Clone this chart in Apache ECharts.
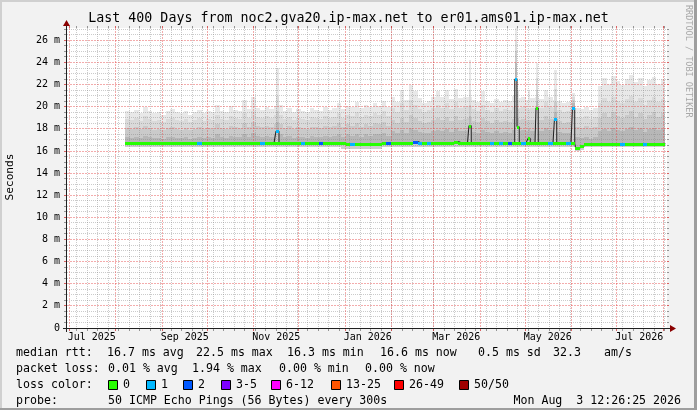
<!DOCTYPE html>
<html>
<head>
<meta charset="utf-8">
<script src="https://cdn.jsdelivr.net/npm/echarts@6/dist/echarts.min.js"></script>
<style>
html,body{margin:0;padding:0;background:#f2f2f2;}
#c{width:697px;height:410px;}
</style>
</head>
<body>
<div id="c"></div>
<script>
// ---------------- data ----------------
const titleText = 'Last 400 Days from noc2.gva20.ip-max.net to er01.ams01.ip-max.net';
const rangeStart = Date.UTC(2025, 5, 29, 12, 26, 25);
const rangeEnd   = Date.UTC(2026, 7, 3, 12, 26, 25);
const dataStart  = Date.UTC(2025, 7, 7, 12, 0, 0);
const stepDays = 3;
const yMax = 27.12;

const xTickLabels = ['Jul 2025', 'Sep 2025', 'Nov 2025', 'Jan 2026', 'Mar 2026', 'May 2026', 'Jul 2026'];
const xTickDates  = ['2025-07-16', '2025-09-16', '2025-11-16', '2026-01-16', '2026-03-16', '2026-05-16', '2026-07-16'];
const monthLines = ['2025-07-01','2025-08-01','2025-09-01','2025-10-01','2025-11-01','2025-12-01','2026-01-01',
                    '2026-02-01','2026-03-01','2026-04-01','2026-05-01','2026-06-01','2026-07-01','2026-08-01'];
const firstWeekLine = '2025-07-06';

// median rtt (ms), one value per 3-day step
const median = [
 16.7,16.7,16.7,16.7,16.7,16.7,16.7,16.7,16.7,16.7,
 16.7,16.7,16.7,16.7,16.7,16.7,16.7,16.7,16.7,16.7,
 16.7,16.7,16.7,16.7,16.7,16.7,16.7,16.7,16.7,16.7,
 16.7,16.7,16.7,16.7,16.7,16.7,16.7,16.7,16.7,16.7,
 16.7,16.7,16.7,16.7,16.7,16.7,16.7,16.7,16.7,16.6,
 16.6,16.6,16.6,16.6,16.6,16.6,16.6,16.7,16.7,16.7,
 16.7,16.7,16.7,16.7,16.85,16.7,16.7,16.7,16.7,16.7,
 16.7,16.7,16.7,16.85,16.7,16.7,16.7,16.7,16.7,16.7,
 16.7,16.7,16.7,16.7,16.7,16.7,16.7,16.7,16.7,16.7,
 16.7,16.7,16.7,16.7,16.7,16.7,16.7,16.7,16.7,16.7,
 16.3,16.45,16.65,16.65,16.65,16.65,16.65,16.65,16.65,16.65,
 16.65,16.65,16.65,16.65,16.65,16.65,16.65,16.65,16.65,16.65
];
// lost pings (of 50) per step
const loss = [
 0,0,0,0,0,0,0,0,0,0,
 0,0,0,0,0,0,1,0,0,0,
 0,0,0,0,0,0,0,0,0,0,
 1,0,0,0,0,0,0,0,0,1,
 0,0,0,2,0,0,0,0,0,0,
 1,0,0,0,0,0,0,0,2,0,
 0,0,0,0,2,1,0,1,0,0,
 0,0,0,0,0,0,0,0,0,0,
 0,1,0,1,0,2,0,0,1,0,
 0,0,0,0,1,0,0,0,1,0,
 0,0,0,0,0,0,0,0,0,0,
 1,0,0,0,0,1,0,0,0,0
];
// smoke: lower edge
const smokeBottom = [
 16.4,16.4,16.4,16.4,16.4,16.4,16.4,16.4,16.4,16.4,
 16.4,16.4,16.4,16.4,16.4,16.4,16.4,16.4,16.4,16.4,
 16.4,16.4,16.4,16.4,16.4,16.4,16.4,16.4,16.4,16.4,
 16.4,16.4,16.4,16.4,16.4,16.4,16.4,16.4,16.4,16.4,
 16.4,16.4,16.4,16.4,16.4,16.4,16.4,16.4,16.2,16.2,
 16.2,16.2,16.2,16.2,16.2,16.2,16.2,16.4,16.4,16.4,
 16.4,16.4,16.4,16.4,16.4,16.4,16.4,16.4,16.4,16.4,
 16.4,16.4,16.4,16.4,16.4,16.4,16.4,16.4,16.4,16.4,
 16.4,16.4,16.4,16.4,16.4,16.4,16.4,16.4,16.4,16.4,
 16.4,16.4,16.4,16.4,16.4,16.4,16.4,16.4,16.4,16.4,
 16.0,16.1,16.4,16.4,16.4,16.4,16.4,16.4,16.4,16.4,
 16.4,16.4,16.4,16.4,16.4,16.4,16.4,16.4,16.4,16.4
];
// smoke: darkest band upper edge
const smokeB = [
 17.3,17.2,17.3,17.2,17.4,17.3,17.2,17.2,17.1,17.3,
 17.3,17.2,17.2,17.3,17.1,17.2,17.3,17.2,17.3,17.2,
 17.5,17.3,17.2,17.4,17.3,17.3,17.5,17.3,17.6,17.4,
 17.3,17.4,17.3,17.5,17.5,17.3,17.4,17.2,17.3,17.3,
 17.2,17.4,17.3,17.3,17.4,17.3,17.4,17.5,17.3,17.5,
 17.4,17.5,17.3,17.5,17.4,17.5,17.5,17.6,17.4,17.8,
 17.6,17.9,17.6,18.1,17.9,17.7,17.6,17.6,17.8,17.9,
 17.8,18.0,17.7,18.1,17.8,17.8,17.9,17.7,17.6,17.9,
 17.7,17.6,17.8,17.6,17.7,17.6,17.9,17.8,17.9,17.8,
 17.8,17.9,17.8,18.1,17.9,17.8,17.7,17.6,17.6,17.8,
 17.3,17.2,17.3,17.1,17.3,17.8,18.0,17.8,18.1,17.9,
 17.8,18.0,18.2,17.9,18.1,17.7,18.0,18.1,17.9,18.0
];
// smoke: middle band upper edge
const smokeC = [
 18.1,18.0,18.2,18.0,18.3,18.1,17.9,18.0,17.9,18.1,
 18.2,18.0,17.9,18.1,17.9,18.0,18.2,18.0,18.1,18.0,
 18.4,18.1,18.0,18.3,18.2,18.1,18.5,18.2,18.6,18.3,
 18.2,18.3,18.2,18.4,18.4,18.1,18.3,18.0,18.2,18.1,
 18.0,18.2,18.2,18.1,18.3,18.2,18.3,18.5,18.2,18.4,
 18.3,18.5,18.2,18.4,18.3,18.5,18.4,18.6,18.3,18.8,
 18.5,19.0,18.6,19.3,19.0,18.7,18.5,18.6,18.8,19.0,
 18.8,19.1,18.7,19.2,18.8,18.9,19.0,18.7,18.6,19.0,
 18.7,18.5,18.8,18.6,18.7,18.6,18.9,18.8,18.9,18.8,
 18.8,18.9,18.8,19.2,18.9,18.8,18.7,18.5,18.6,18.8,
 18.2,18.1,18.3,18.0,18.2,19.0,19.4,19.1,19.5,19.2,
 19.0,19.3,19.6,19.1,19.4,18.9,19.3,19.5,19.1,19.4
];
// smoke: light band upper edge
const smokeD = [
 18.9,18.8,19.0,18.7,19.2,18.9,18.7,18.8,18.6,18.9,
 19.0,18.8,18.7,18.9,18.6,18.8,19.0,18.7,18.9,18.8,
 19.3,18.9,18.8,19.2,19.0,18.9,19.4,19.0,19.6,19.1,
 19.0,19.2,19.0,19.3,19.3,18.9,19.1,18.8,19.0,18.9,
 18.8,19.1,19.0,18.9,19.2,19.0,19.1,19.4,19.0,19.3,
 19.2,19.5,19.1,19.3,19.2,19.4,19.3,19.6,19.2,19.9,
 19.5,20.3,19.7,20.6,20.2,19.8,19.5,19.7,19.9,20.2,
 19.9,20.3,19.8,20.4,19.9,20.0,20.1,19.8,19.6,20.2,
 19.7,19.5,19.9,19.6,19.8,19.7,20.0,19.9,20.0,19.9,
 19.9,20.0,19.9,20.4,20.0,19.9,19.7,19.5,19.6,19.8,
 19.1,19.0,19.2,18.9,19.1,20.3,20.8,20.4,20.9,20.5,
 20.3,20.7,21.0,20.4,20.8,20.2,20.6,20.9,20.4,20.7
];
// smoke: upper edge (lightest)
const smokeTop = [
 19.6,19.5,19.7,19.4,20.0,19.6,19.4,19.5,19.3,19.6,
 19.8,19.5,19.4,19.6,19.3,19.5,19.7,19.4,19.6,19.5,
 20.2,19.6,19.5,20.1,19.7,19.6,20.6,19.8,20.9,19.9,
 19.7,20.0,19.8,20.1,20.2,19.6,19.9,19.5,19.8,19.6,
 19.5,19.9,19.7,19.6,20.0,19.7,19.9,20.3,19.8,20.1,
 20.0,20.4,19.9,20.2,20.0,20.3,20.1,20.5,20.0,20.9,
 20.4,21.5,20.6,22.0,21.4,20.8,20.3,20.5,20.9,21.4,
 20.9,21.5,20.7,21.6,20.8,20.9,20.9,20.6,20.4,21.4,
 20.5,20.3,20.7,20.4,20.6,20.5,21.0,20.8,20.9,20.6,
 20.8,20.9,20.7,21.5,20.9,20.6,20.5,20.3,20.4,20.5,
 19.9,19.8,20.0,19.7,19.9,21.9,22.6,22.1,22.8,22.3,
 22.0,22.5,22.9,22.2,22.6,21.9,22.4,22.7,22.1,22.5
];

// short latency spikes (start time UTC, duration in hours)
const spikeStart  = ['2025-11-15T20:00', '2026-03-24T12:00', '2026-04-24T00:00', '2026-04-25T12:00',
                     '2026-05-02T20:00', '2026-05-08T04:00', '2026-05-20T12:00', '2026-06-01T12:00'];
const spikeHours  = [48, 36, 36, 36, 36, 36, 36, 36];
const spikeMedian = [17.8, 18.3, 22.5, 18.2, 17.15, 19.9, 18.9, 19.9];
const spikeLoss   = [1, 0, 1, 0, 0, 0, 1, 1];
const spikeBottom = [16.4, 16.4, 16.4, 16.4, 16.4, 16.4, 16.4, 16.4];
const spikeB      = [18.6, 19.2, 24.0, 19.0, 18.0, 20.5, 19.5, 20.3];
const spikeC      = [19.6, 20.2, 25.0, 19.8, 18.8, 21.5, 20.4, 20.6];
const spikeD      = [21.0, 21.5, 26.0, 20.6, 19.8, 22.6, 21.6, 20.9];
const spikeTop    = [23.5, 24.2, 27.1, 21.5, 21.4, 24.0, 23.3, 21.2];

const lossBins = [
  {label: '0',     lo: 0,  hi: 0,  color: '#26ff00'},
  {label: '1',     lo: 1,  hi: 1,  color: '#00b8ff'},
  {label: '2',     lo: 2,  hi: 2,  color: '#0059ff'},
  {label: '3-5',   lo: 3,  hi: 5,  color: '#7e00ff'},
  {label: '6-12',  lo: 6,  hi: 12, color: '#ff00ff'},
  {label: '13-25', lo: 13, hi: 25, color: '#ff5500'},
  {label: '26-49', lo: 26, hi: 49, color: '#ff0000'},
  {label: '50/50', lo: 50, hi: 50, color: '#a10000'}
];

const statRtt  = ['16.7 ms avg', '22.5 ms max', '16.3 ms min', '16.6 ms now', '0.5 ms sd', '32.3', 'am/s'];
const statLoss = ['0.01 % avg', '1.94 % max', '0.00 % min', '0.00 % now'];
const probeText = '50 ICMP Echo Pings (56 Bytes) every 300s';
const stampText = 'Mon Aug  3 12:26:25 2026';

// ---------------- build ----------------
const DAY = 86400000, HOUR = 3600000;
const STEP = stepDays * DAY;
const toMs = s => Date.parse(s + 'T00:00:00Z');
const times = median.map((_, i) => dataStart + i * STEP);
const spikes = spikeStart.map((s, i) => {
  const t0 = Date.parse(s + ':00Z');
  return {t0, t1: t0 + spikeHours[i] * HOUR, w: spikeHours[i] * HOUR, i};
});

const FONT = '"DejaVu Sans Mono", monospace';
const smokeColors = ['#e8e8e8', '#dadada', '#cacaca', '#b7b7b7'];
const underColor = '#cdcdcd';
const MINOR = 'rgba(130,130,130,0.42)';
const MAJOR = 'rgba(228,70,70,0.45)';
const MINOR_TICK = 'rgba(110,110,110,0.7)';
const MAJOR_TICK = 'rgba(210,60,60,0.8)';

function lossColor(n) {
  for (const b of lossBins) if (n >= b.lo && n <= b.hi) return b.color;
  return '#000';
}

const smokeData = times.map((t, i) => [t, STEP, smokeBottom[i], smokeB[i], smokeC[i], smokeD[i], smokeTop[i], median[i]])
  .concat(spikes.map(s => [s.t0, s.w, spikeBottom[s.i], spikeB[s.i], spikeC[s.i], spikeD[s.i], spikeTop[s.i], spikeMedian[s.i]]));
const medColData = times.map((t, i) => [t, STEP, median[i], loss[i]])
  .concat(spikes.map(s => [s.t0, s.w, spikeMedian[s.i], spikeLoss[s.i]]));
const baseAt = t => median[Math.min(median.length - 1, Math.max(0, Math.floor((t - dataStart) / STEP)))];
let pts = [];
times.forEach((t, i) => { if (!spikes.some(s => t > s.t0 && t < s.t1)) pts.push([t, median[i]]); });
spikes.forEach(s => { pts.push([s.t0, spikeMedian[s.i]]); pts.push([s.t1, baseAt(s.t1)]); });
pts = pts.map((p, k) => [p[0], p[1], k]).sort((a, b) => a[0] - b[0] || a[2] - b[2]);
const medLineData = [];
pts.forEach(p => {
  const last = medLineData[medLineData.length - 1];
  if (last && last[0] === p[0]) medLineData[medLineData.length - 1] = [p[0], p[1]];
  else medLineData.push([p[0], p[1]]);
});
medLineData.push([times[times.length - 1] + STEP, median[median.length - 1]]);

function renderSmoke(params, api) {
  const t = api.value(0), w = api.value(1);
  const xa = Math.round(api.coord([t, 0])[0]);
  const xb = Math.round(api.coord([t + w, 0])[0]);
  const yOf = v => Math.round(api.coord([t, v])[1]);
  const yBot = yOf(api.value(2));
  const children = [];
  [6, 5, 4, 3].forEach((d, k) => {
    const yt = yOf(api.value(d));
    children.push({type: 'rect', shape: {x: xa, y: yt, width: xb - xa, height: yBot - yt}, style: {fill: smokeColors[k]}});
  });
  const ym = yOf(api.value(7));
  children.push({type: 'rect', shape: {x: xa, y: ym, width: xb - xa, height: yBot - ym}, style: {fill: underColor}});
  return {type: 'group', children};
}

function renderMedian(params, api) {
  const t = api.value(0), w = api.value(1);
  const xa = Math.round(api.coord([t, 0])[0]);
  const xb = Math.round(api.coord([t + w, 0])[0]);
  const y = Math.round(api.coord([t, api.value(2)])[1]);
  return {type: 'rect', shape: {x: xa, y: y - 1, width: Math.max(1, xb - xa), height: 3}, style: {fill: lossColor(api.value(3))}};
}

function renderXLabel(params, api) {
  const t = api.value(0);
  const p = api.coord([t, 0]);
  return {type: 'text', style: {text: xTickLabels[api.value(1)], x: p[0], y: p[1] + 9.5,
    textAlign: 'center', textVerticalAlign: 'middle', font: '10px ' + FONT, fill: '#000'}};
}

// ---- static graphic (frame, axes, title, legend) ----
const G = [];
G.push({type: 'line', shape: {x1: 0, y1: 1, x2: 697, y2: 1}, style: {stroke: '#d0d0d0', lineWidth: 2}});
G.push({type: 'line', shape: {x1: 1, y1: 0, x2: 1, y2: 410}, style: {stroke: '#d0d0d0', lineWidth: 2}});
G.push({type: 'line', shape: {x1: 0, y1: 409, x2: 697, y2: 409}, style: {stroke: '#9e9e9e', lineWidth: 2}});
G.push({type: 'line', shape: {x1: 695.5, y1: 0, x2: 695.5, y2: 410}, style: {stroke: '#9e9e9e', lineWidth: 3}});
G.push({type: 'line', z: 100, shape: {x1: 63, y1: 328.5, x2: 671, y2: 328.5}, style: {stroke: '#202020', lineWidth: 1}});
G.push({type: 'line', z: 100, shape: {x1: 66.5, y1: 332, x2: 66.5, y2: 24}, style: {stroke: '#202020', lineWidth: 1}});
G.push({type: 'polygon', z: 100, shape: {points: [[670, 325], [676, 328.5], [670, 332]]}, style: {fill: '#8a0000'}});
G.push({type: 'polygon', z: 100, shape: {points: [[63, 26], [66.5, 20], [70, 26]]}, style: {fill: '#8a0000'}});
G.push({type: 'text', x: 348.5, y: 19, style: {text: titleText, font: '13.3px ' + FONT, fill: '#000', textAlign: 'center', textVerticalAlign: 'middle'}});
G.push({type: 'text', x: 10, y: 177, rotation: Math.PI / 2, style: {text: 'Seconds', font: '11.2px ' + FONT, fill: '#000', textAlign: 'center', textVerticalAlign: 'middle'}});
G.push({type: 'text', x: 688.5, y: 5, rotation: -Math.PI / 2, style: {text: 'RRDTOOL / TOBI OETIKER', font: '8.5px ' + FONT, fill: '#a8a8a8', textAlign: 'left', textVerticalAlign: 'middle'}});
const LF = '11.6px ' + FONT;
function lt(x, y, s, align) {
  G.push({type: 'text', x: x, y: y, style: {text: s, font: LF, fill: '#000', textAlign: align || 'left', textVerticalAlign: 'middle'}});
}
const rowY = [353, 369, 385, 401];
lt(16, rowY[0], 'median rtt:');
[107, 196, 287, 380, 478, 553, 604].forEach((x, i) => lt(x, rowY[0], statRtt[i]));
lt(16, rowY[1], 'packet loss:');
[108, 192, 279, 365].forEach((x, i) => lt(x, rowY[1], statLoss[i]));
lt(16, rowY[2], 'loss color:');
const boxX = [108, 146, 183, 221, 271, 331, 394, 459];
lossBins.forEach((b, i) => {
  G.push({type: 'rect', shape: {x: boxX[i] + 0.5, y: rowY[2] - 4.5, width: 9, height: 9}, style: {fill: b.color, stroke: '#000', lineWidth: 1}});
  lt(boxX[i] + 15, rowY[2], b.label);
});
lt(16, rowY[3], 'probe:');
lt(108, rowY[3], probeText);
lt(681, rowY[3], stampText, 'right');

const chart = echarts.init(document.getElementById('c'), null, {renderer: 'canvas'});
chart.setOption({
  animation: false,
  backgroundColor: '#f2f2f2',
  grid: {left: 67, top: 28, width: 600, height: 300, show: true, backgroundColor: '#ffffff', borderWidth: 0},
  xAxis: {type: 'value', min: rangeStart, max: rangeEnd, show: true,
    axisLine: {show: false}, axisTick: {show: false}, axisLabel: {show: false}, splitLine: {show: false}},
  yAxis: {type: 'value', min: 0, max: yMax, interval: 2,
    axisLine: {show: false}, axisTick: {show: false}, splitLine: {show: false},
    axisLabel: {margin: 7, fontFamily: FONT, fontSize: 10, color: '#000',
      formatter: v => (Math.abs(v % 2) < 1e-6 ? (v === 0 ? '0' : v + ' m') : '')}},
  graphic: G,
  series: [
    {type: 'custom', name: 'smoke', z: 1, silent: true, clip: true, renderItem: renderSmoke, data: smokeData},
    {type: 'line', name: 'median', z: 4, silent: true, step: 'end', symbol: 'none', data: medLineData,
      lineStyle: {color: '#202020', width: 1}},
    {type: 'custom', name: 'median loss', z: 5, silent: true, renderItem: renderMedian, data: medColData},
    {type: 'custom', name: 'xlabels', z: 6, silent: true, renderItem: renderXLabel,
      data: xTickDates.map((d, i) => [toMs(d), i])}
  ]
});

// ---- grid lines, positioned through the chart's own scales ----
const px = (t, v) => chart.convertToPixel({gridIndex: 0}, [t, v]);
const gridEls = [];
function hLine(v, col, tk, dash) {
  const p0 = px(rangeStart, v), p1 = px(rangeEnd, v);
  const y = Math.floor(p0[1]) + 0.5, xl = Math.round(p0[0]), xr = Math.round(p1[0]);
  gridEls.push({type: 'line', z: 2, silent: true, shape: {x1: xl, y1: y, x2: xr, y2: y}, style: {stroke: col, lineWidth: 1, lineDash: dash}});
  gridEls.push({type: 'line', z: 2, silent: true, shape: {x1: xl - 3, y1: y, x2: xl, y2: y}, style: {stroke: tk, lineWidth: 1}});
  gridEls.push({type: 'line', z: 2, silent: true, shape: {x1: xr, y1: y, x2: xr + 2, y2: y}, style: {stroke: tk, lineWidth: 1}});
}
function vLine(t, col, tk, dash) {
  const p0 = px(t, 0), p1 = px(t, yMax);
  const x = Math.floor(p0[0]) + 0.5, yb = Math.round(p0[1]), yt = Math.round(p1[1]);
  gridEls.push({type: 'line', z: 2, silent: true, shape: {x1: x, y1: yt, x2: x, y2: yb}, style: {stroke: col, lineWidth: 1, lineDash: dash}});
  gridEls.push({type: 'line', z: 2, silent: true, shape: {x1: x, y1: yb, x2: x, y2: yb + 3}, style: {stroke: tk, lineWidth: 1}});
  gridEls.push({type: 'line', z: 2, silent: true, shape: {x1: x, y1: yt - 2, x2: x, y2: yt}, style: {stroke: tk, lineWidth: 1}});
}
for (let k = 1; k * 0.5 <= yMax; k++) { const v = k * 0.5; if (v % 2 !== 0) hLine(v, MINOR, MINOR_TICK, [1, 1]); }
for (let t = toMs(firstWeekLine); t < rangeEnd; t += 7 * DAY) vLine(t, MINOR, MINOR_TICK, [1, 1]);
for (let v = 2; v <= 26; v += 2) hLine(v, MAJOR, MAJOR_TICK, [2, 1]);
monthLines.forEach(s => vLine(toMs(s), MAJOR, MAJOR_TICK, [2, 1]));
chart.setOption({graphic: G.concat(gridEls)});
</script>
</body>
</html>
